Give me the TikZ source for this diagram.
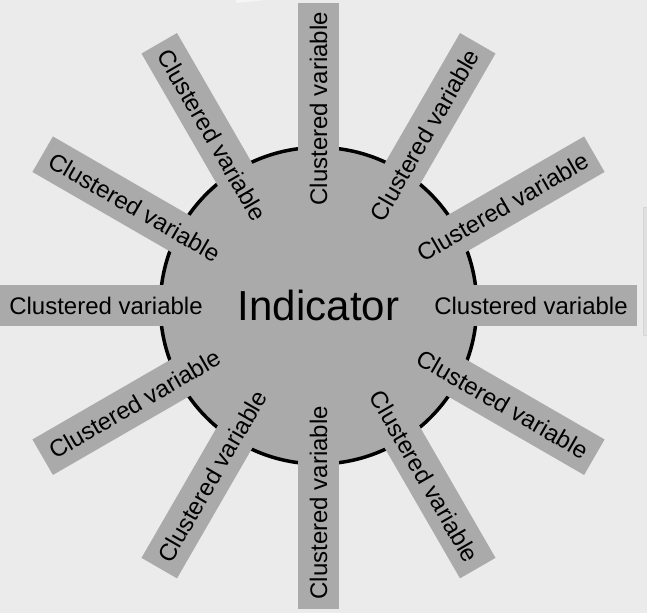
\documentclass[tikz,border=0pt]{standalone}
\usepackage{fontspec}
\setmainfont{Liberation Sans}
\definecolor{bgc}{RGB}{235,235,235}
\definecolor{boxc}{RGB}{170,170,170}
\definecolor{stripc}{RGB}{224,224,224}
\definecolor{stripd}{RGB}{214,214,214}
\definecolor{tipc}{RGB}{246,246,246}
\tikzset{
  hub/.style={circle, fill=boxc, draw=black, line width=3.5pt, minimum size=316.5pt, inner sep=0pt,
    font=\fontsize{42}{48}\selectfont},
  spoke/.style={rectangle, fill=boxc, minimum width=212pt, minimum height=41pt, inner sep=0pt,
    font=\fontsize{24}{28}\selectfont, text=black}
}
\begin{document}
\begin{tikzpicture}[x=1pt,y=1pt]
\fill[bgc] (0,0) rectangle (647,-613);
\useasboundingbox (0,0) rectangle (647,-613);
% faint clipped shapes at the edges
\begin{scope}
\clip (0,0) rectangle (647,-613);
\filldraw[fill=stripc, draw=stripd, line width=1pt] (643.5,-207) rectangle (660,-335);
\fill[tipc] (236,0) -- (236,-3) -- (265,0) -- cycle;
\end{scope}
\node[hub] (c) at (318.5,-305.7) {};
\foreach \a/\r in {0/0,30/30,60/60,90/90,120/-60,150/-30,180/0,210/30,240/60,270/90,300/-60,330/-30}{
  \node[spoke, rotate=\r] (b\a) at ({318.5+212.5*cos(\a)},{-305.7+197*sin(\a)}) {Clustered variable};
}
\node[font=\fontsize{42}{48}\selectfont, inner sep=0pt] (ind) at (c.center) {Indicator};
\end{tikzpicture}
\end{document}
